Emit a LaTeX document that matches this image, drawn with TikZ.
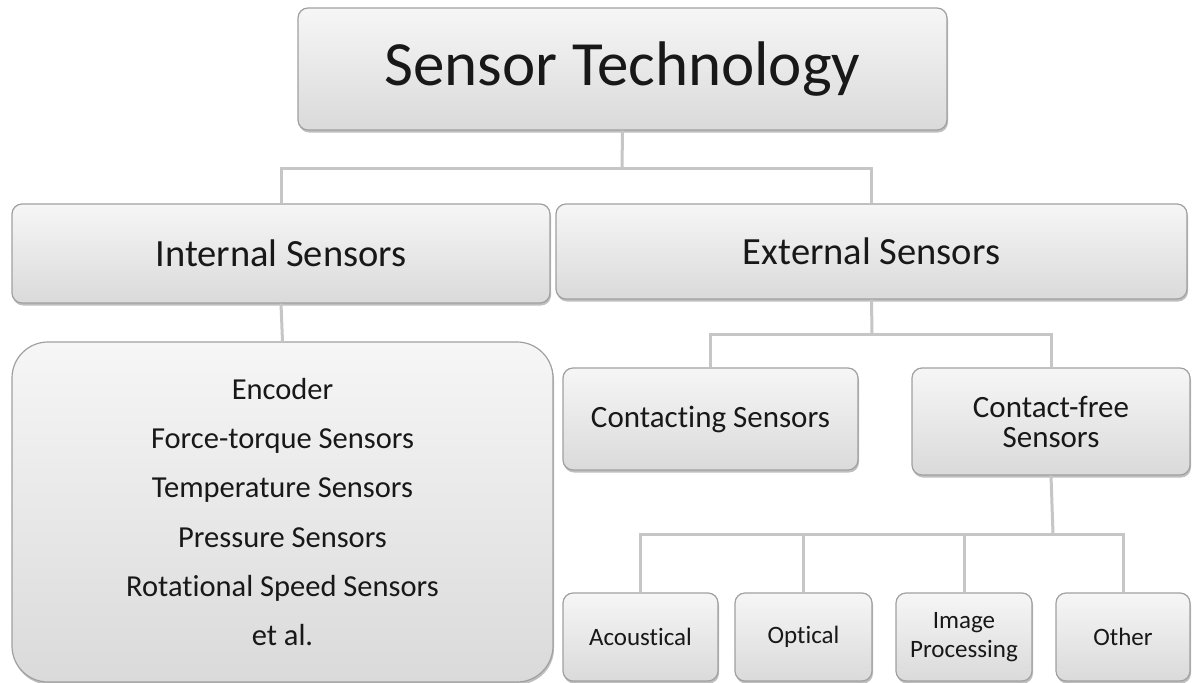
\documentclass[tikz,border=0pt]{standalone}
\usepackage{fontspec}
\setmainfont{Carlito}[Ligatures=NoCommon]
\usetikzlibrary{shadows}
\definecolor{boxline}{RGB}{160,160,160}
\definecolor{boxtop}{RGB}{246,246,246}
\definecolor{boxbot}{RGB}{218,218,218}
\definecolor{connline}{RGB}{198,198,198}
\definecolor{inkc}{RGB}{24,24,24}
\tikzset{
  card/.style={draw=boxline, line width=1.2pt, rounded corners=10pt,
    top color=boxtop, bottom color=boxbot, text=inkc, align=center,
    inner sep=0pt,
    drop shadow={shadow xshift=1pt, shadow yshift=-2.5pt, fill=black!55, opacity=0.45}},
  conn/.style={draw=connline, line width=3pt},
  fsTitle/.style={font=\fontsize{63}{70}\selectfont},
  fsMain/.style={font=\fontsize{38.5}{44}\selectfont},
  fsMid/.style={font=\fontsize{31}{30}\selectfont},
  fsList/.style={font=\fontsize{30.5}{49.2}\selectfont},
  fsSmall/.style={font=\fontsize{25}{29}\selectfont},
}
\begin{document}
\begin{tikzpicture}[x=1pt,y=-1pt]
\useasboundingbox[fill=white] (0,0) rectangle (1192,683);

% junction points of the tree connectors
\coordinate (j1) at (622,168);
\coordinate (j2) at (872,334);
\coordinate (j3) at (1053,534);

% boxes
\node[card, fsTitle, minimum width=649pt, minimum height=122pt] (top) at (622.5,69) {Sensor Technology};
\node[card, fsMain, minimum width=538pt, minimum height=99pt] (int) at (281,253.5) {Internal Sensors};
\node[card, fsMain, minimum width=631pt, minimum height=95pt] (ext) at (871.5,251.5) {External Sensors};
\node[card, fsList, rounded corners=36pt, minimum width=541pt, minimum height=340pt] (list) at (282.5,512)
  {Encoder\\Force-torque Sensors\\Temperature Sensors\\Pressure Sensors\\Rotational Speed Sensors\\et al.};
\node[card, fsMid, minimum width=295pt, minimum height=102pt] (cont) at (710.5,419) {Contacting Sensors};
\node[card, fsMid, minimum width=278pt, minimum height=107pt] (free) at (1051,421.5) {Contact-free\\[0pt]Sensors};
\node[card, fsSmall, minimum width=155pt, minimum height=88pt] (acou) at (640.5,637) {Acoustical};
\node[card, fsSmall, minimum width=137pt, minimum height=88pt] (opt) at (803.5,637) {Optical};
\node[card, fsSmall, minimum width=136pt, minimum height=88pt] (img) at (964,637) {Image\\Processing};
\node[card, fsSmall, minimum width=134pt, minimum height=88pt] (oth) at (1123,637) {Other};

% tree connectors
\draw[conn] (top.south) -- (j1);
\draw[conn] (int.north) |- (j1) -| (ext.north);
\draw[conn] (int.south) -- (list.north);
\draw[conn] (ext.south) -- (j2);
\draw[conn] (cont.north) |- (j2) -| (free.north);
\draw[conn] (free.south) -- (j3);
\draw[conn] (acou.north) |- (j3) -| (oth.north);
\draw[conn] (opt.north) -- (opt.north |- j3);
\draw[conn] (img.north) -- (img.north |- j3);
\end{tikzpicture}
\end{document}
